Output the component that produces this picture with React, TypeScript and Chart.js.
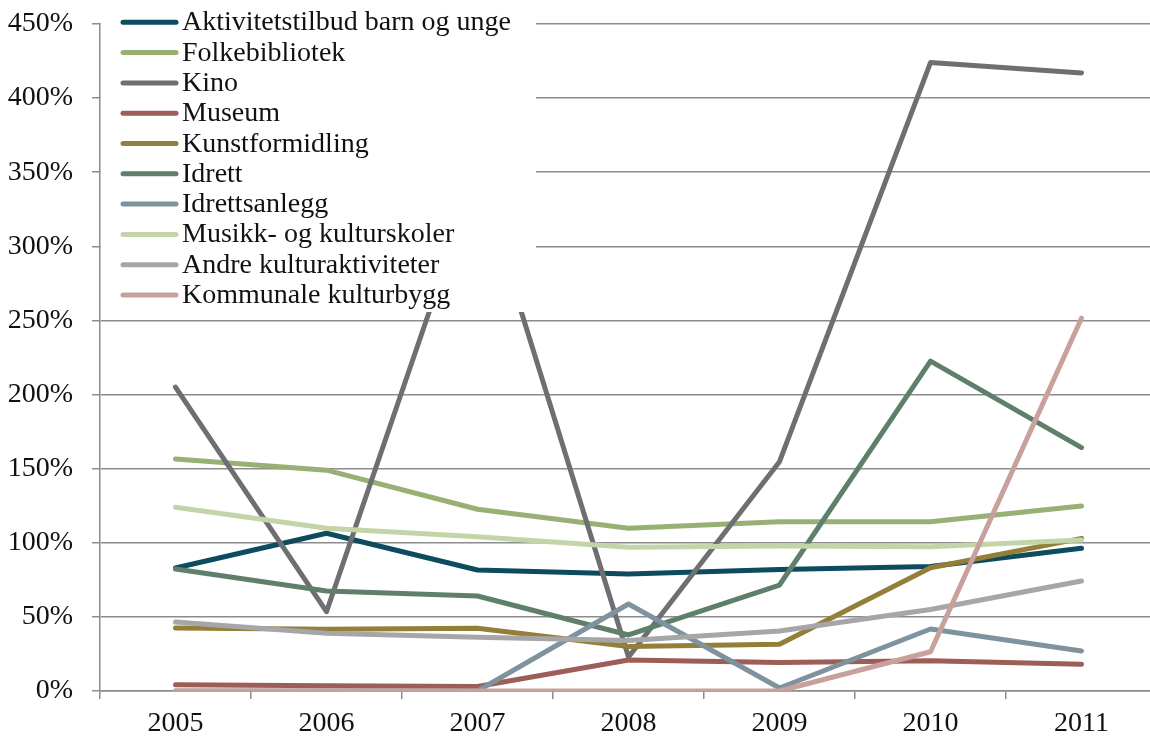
import React, { useEffect, useRef } from "react";
import { Chart, registerables } from "chart.js";

Chart.register(...registerables);

const years = ["2005", "2006", "2007", "2008", "2009", "2010", "2011"];

const seriesNames = [
  "Aktivitetstilbud barn og unge",
  "Folkebibliotek",
  "Kino",
  "Museum",
  "Kunstformidling",
  "Idrett",
  "Idrettsanlegg",
  "Musikk- og kulturskoler",
  "Andre kulturaktiviteter",
  "Kommunale kulturbygg",
];

const aktivitetstilbud = [83, 106.4, 81.6, 79, 82, 84, 96.3];
const folkebibliotek = [156.5, 149, 122.6, 109.8, 114.2, 114.2, 124.8];
const kino = [205, 53.5, 351, 23, 154.7, 424, 417];
const museum = [4.2, 3.5, 3, 20.9, 19.3, 20.4, 18];
const kunstformidling = [42.5, 41.6, 42.3, 30, 31.5, 83.2, 103];
const idrett = [82.3, 67.5, 64.1, 37.8, 71.5, 222.6, 164.2];
const idrettsanlegg = [0, 0, 0, 58.7, 2, 41.8, 27];
const musikk = [124, 109.8, 104.1, 97, 97.8, 97.4, 101.9];
const andre = [46.5, 38.9, 36.2, 34, 40.5, 55, 74.2];
const kommunale = [0, 0, 0, 0, 0, 26.5, 251.5];

const seriesValues = [
  aktivitetstilbud,
  folkebibliotek,
  kino,
  museum,
  kunstformidling,
  idrett,
  idrettsanlegg,
  musikk,
  andre,
  kommunale,
];

const seriesColors = [
  "#0d4b5e",
  "#97b074",
  "#6f6e73",
  "#9c5e57",
  "#937f38",
  "#5f7f6b",
  "#7f939e",
  "#c3d5a8",
  "#a6a6a8",
  "#c8a19c",
];

const yTicks = [0, 50, 100, 150, 200, 250, 300, 350, 400, 450];

const FONT = "'Liberation Serif', 'Times New Roman', serif";
const GRID = "#8c8c8c";

const legendPlugin = {
  id: "boxLegend",
  afterDraw(chart: any) {
    const ctx = chart.ctx;
    ctx.save();
    ctx.fillStyle = "#ffffff";
    ctx.fillRect(101, 0, 435, 312);
    seriesNames.forEach((name, i) => {
      const cy = 22.3 + 30.3 * i;
      ctx.strokeStyle = seriesColors[i];
      ctx.lineWidth = 5;
      ctx.lineCap = "round";
      ctx.beginPath();
      ctx.moveTo(123, cy);
      ctx.lineTo(176, cy);
      ctx.stroke();
      ctx.fillStyle = "#111111";
      ctx.font = `28px ${FONT}`;
      ctx.textBaseline = "alphabetic";
      ctx.textAlign = "left";
      ctx.fillText(name, 182, cy + 8);
    });
    ctx.restore();
  },
};

export default function App() {
  const canvasRef = useRef<HTMLCanvasElement | null>(null);

  useEffect(() => {
    if (!canvasRef.current) return;
    const chart = new Chart(canvasRef.current, {
      type: "line",
      data: {
        labels: years,
        datasets: seriesNames.map((name, i) => ({
          label: name,
          data: seriesValues[i],
          borderColor: seriesColors[i],
          backgroundColor: seriesColors[i],
          borderWidth: 5,
          borderCapStyle: "round" as const,
          borderJoinStyle: "round" as const,
          pointRadius: 0,
          pointHoverRadius: 0,
          tension: 0,
          fill: false,
          order: -i,
        })),
      },
      options: {
        animation: false,
        responsive: false,
        devicePixelRatio: 1,
        layout: { padding: { top: 24, right: 13, left: 0, bottom: 0 } },
        plugins: {
          legend: { display: false },
          tooltip: { enabled: false },
        },
        scales: {
          x: {
            type: "category",
            offset: true,
            grid: {
              offset: true,
              drawOnChartArea: false,
              drawTicks: true,
              tickLength: 8,
              color: GRID,
              lineWidth: 1.5,
            },
            border: { display: true, color: GRID, width: 1.5 },
            ticks: {
              font: { family: FONT, size: 28 },
              color: "#111111",
              padding: 8,
              maxRotation: 0,
            },
            afterFit(scale: any) {
              scale.height = 46;
              scale.paddingLeft = 0;
              scale.paddingRight = 0;
            },
          },
          y: {
            min: 0,
            max: 450,
            afterBuildTicks(scale: any) {
              scale.ticks = yTicks.map((v) => ({ value: v }));
            },
            grid: {
              color: GRID,
              lineWidth: 1.5,
              drawTicks: true,
              tickLength: 8,
            },
            border: { display: true, color: GRID, width: 1.5 },
            ticks: {
              font: { family: FONT, size: 28 },
              color: "#111111",
              padding: 19,
              callback: (v: any) => `${v}%`,
            },
            afterFit(scale: any) {
              scale.width = 100;
              scale.paddingTop = 0;
              scale.paddingBottom = 0;
            },
          },
        },
      },
      plugins: [legendPlugin],
    });
    return () => chart.destroy();
  }, []);

  return (
    <div
      style={{
        position: "fixed",
        left: 0,
        top: 0,
        width: 1150,
        height: 737,
        overflow: "hidden",
        background: "#ffffff",
      }}
    >
      <canvas ref={canvasRef} width={1170} height={737} style={{ display: "block" }} />
    </div>
  );
}
